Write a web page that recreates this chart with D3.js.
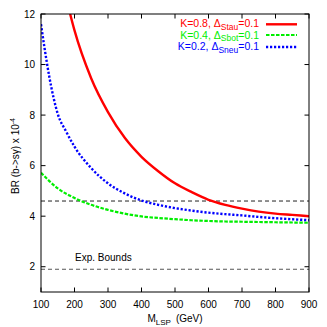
<!DOCTYPE html>
<html><head><meta charset="utf-8">
<script src="https://cdn.jsdelivr.net/npm/d3@7"></script>
<style>body{margin:0;background:#fff}svg{display:block;font-family:"Liberation Sans",Arial,sans-serif}</style>
</head><body><svg id="c" width="327" height="327"></svg>
<script>
const xTicks = [100,200,300,400,500,600,700,800,900];
const yTicks = [2,4,6,8,10,12];
const redX = [187,200,250,300,350,400,450,500,550,600,650,700,750,800,850,900];
const redY = [12.0,11.35,9.45,8.12,7.1,6.35,5.78,5.3,4.95,4.65,4.45,4.3,4.18,4.1,4.05,4.0];
const greenX = [100,150,200,250,300,350,400,450,500,550,600,650,700,750,800,850,900];
const greenY = [5.72,5.1,4.72,4.45,4.25,4.1,3.99,3.93,3.88,3.84,3.81,3.79,3.78,3.77,3.76,3.75,3.74];
const blueX = [100,110,125,150,175,200,250,300,350,400,450,500,550,600,650,700,750,800,850,900];
const blueY = [11.6,10.7,9.5,8.05,7.35,6.75,5.9,5.3,4.9,4.62,4.45,4.32,4.22,4.14,4.08,4.03,3.97,3.92,3.88,3.84];
const bounds = [4.6, 1.9];
const legendLabels = [["K=0.8, Δ","Stau","=0.1"],["K=0.4, Δ","Sbot","=0.1"],["K=0.2, Δ","Sneu","=0.1"]];

const svg = d3.select("#c");
const L=41,R=309,T=14,B=292;
const x = d3.scaleLinear().domain([100,900]).range([L,R]);
const y = d3.scaleLinear().domain([1,12]).range([B,T]);

const tl=4.5;
const g = svg.append("g").attr("stroke","#000").attr("stroke-width",1);
xTicks.forEach(v=>{
  g.append("line").attr("x1",x(v)).attr("x2",x(v)).attr("y1",B).attr("y2",B-tl);
  g.append("line").attr("x1",x(v)).attr("x2",x(v)).attr("y1",T).attr("y2",T+tl);
});
yTicks.forEach(v=>{
  g.append("line").attr("x1",L).attr("x2",L+tl).attr("y1",y(v)).attr("y2",y(v));
  g.append("line").attr("x1",R).attr("x2",R-tl).attr("y1",y(v)).attr("y2",y(v));
});
svg.selectAll(".xt").data(xTicks).enter().append("text")
  .attr("x",d=>x(d)).attr("y",307.5).attr("text-anchor","middle").attr("font-size",10).text(d=>d);
svg.selectAll(".yt").data(yTicks).enter().append("text")
  .attr("x",35).attr("y",d=>y(d)+3.6).attr("text-anchor","end").attr("font-size",10).text(d=>d);

svg.selectAll(".bd").data(bounds).enter().append("line")
  .attr("x1",L).attr("x2",R).attr("y1",d=>y(d)).attr("y2",d=>y(d))
  .attr("stroke",(d,i)=>i?"#555":"#222").attr("stroke-width",1).attr("stroke-dasharray","4,3");
svg.append("text").attr("x",75).attr("y",261).attr("font-size",10).text("Exp. Bounds");

const line = d3.line().x(d=>x(d[0])).y(d=>y(d[1])).curve(d3.curveMonotoneX);
svg.append("clipPath").attr("id","cp").append("rect").attr("x",L).attr("y",T).attr("width",R-L).attr("height",B-T);
const series = [
  {xs:redX,ys:redY,color:"#ff0000",w:2.4,dash:null},
  {xs:greenX,ys:greenY,color:"#00ee00",w:2.2,dash:"3.5,1.5"},
  {xs:blueX,ys:blueY,color:"#0000ff",w:2.4,dash:"2.2,1.8"}
];
series.forEach(s=>{
  svg.append("path").attr("clip-path","url(#cp)").attr("d",line(s.xs.map((v,i)=>[v,s.ys[i]])))
    .attr("fill","none").attr("stroke",s.color).attr("stroke-width",s.w).attr("stroke-dasharray",s.dash);
});

svg.append("rect").attr("x",L).attr("y",T).attr("width",R-L).attr("height",B-T).attr("fill","none").attr("stroke","#000").attr("stroke-width",1);

const rows=[27,38.5,50], lys=[24.3,35,47];
series.forEach((s,i)=>{
  const t = svg.append("text").attr("x",259).attr("y",rows[i]).attr("text-anchor","end").attr("font-size",10.5).attr("fill",s.color);
  t.append("tspan").text(legendLabels[i][0]);
  t.append("tspan").attr("font-size",8.5).attr("dy",2.5).text(legendLabels[i][1]);
  t.append("tspan").attr("dy",-2.5).text(legendLabels[i][2]);
  svg.append("line").attr("x1",266).attr("x2",297).attr("y1",lys[i]).attr("y2",lys[i])
    .attr("stroke",s.color).attr("stroke-width",s.w).attr("stroke-dasharray",s.dash);
});

const xl = svg.append("text").attr("x",175).attr("y",322).attr("text-anchor","middle").attr("font-size",10);
xl.append("tspan").text("M");
xl.append("tspan").attr("font-size",8).attr("dy",2.5).text("LSP");
xl.append("tspan").attr("dy",-2.5).attr("dx",5).text("(GeV)");
const yl = svg.append("text").attr("transform","translate(19,156) rotate(-90)").attr("text-anchor","middle").attr("font-size",10);
yl.append("tspan").text("BR (b->sγ) x 10");
yl.append("tspan").attr("font-size",7).attr("dy",-4).text("-4");
</script></body></html>
